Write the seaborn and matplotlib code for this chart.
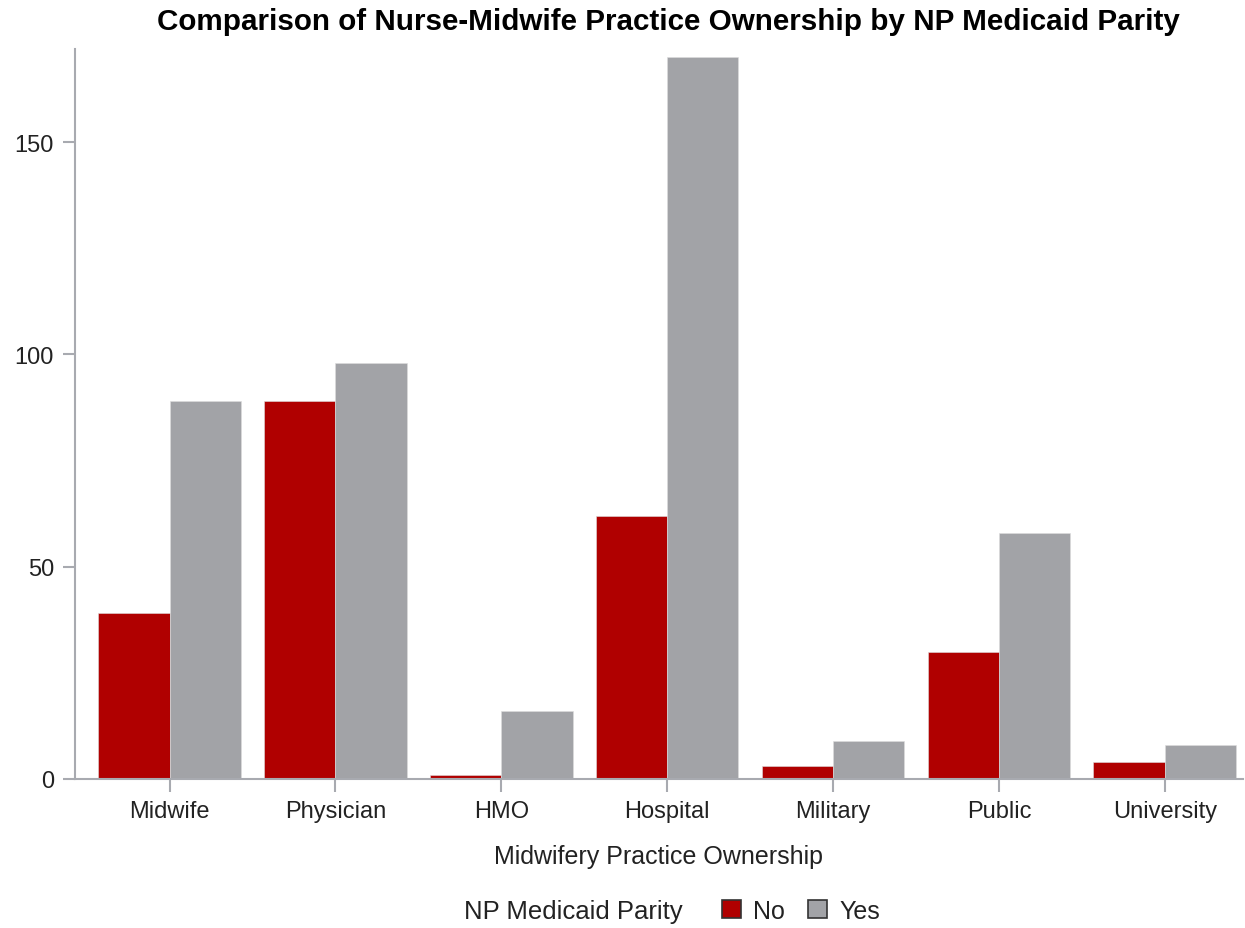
import pandas as pd
import seaborn as sns
import matplotlib.pyplot as plt
from matplotlib.patches import Patch

# data
ownership = ["Midwife", "Physician", "HMO", "Hospital", "Military", "Public", "University"]
parity_no = [39, 89, 1, 62, 3, 30, 4]
parity_yes = [89, 98, 16, 170, 9, 58, 8]
yticks = [0, 50, 100, 150]

df = pd.DataFrame({
    "ownership": ownership * 2,
    "count": parity_no + parity_yes,
    "parity": ["No"] * len(ownership) + ["Yes"] * len(ownership),
})

sns.set_style("white")
plt.rcParams["font.family"] = ["Liberation Sans", "DejaVu Sans"]

red = "#B00000"
grey = "#A2A3A7"
axis_col = "#A8AAB0"
text_col = "#222222"

fig = plt.figure(figsize=(12.45, 9.29), dpi=100)
ax = fig.add_axes([0.0602, 0.1604, 0.938, 0.786])

sns.barplot(data=df, x="ownership", y="count", hue="parity",
            palette={"No": red, "Yes": grey}, width=0.86, saturation=1,
            errorbar=None, edgecolor="#DDDDDD", linewidth=0.4, ax=ax)

ax.legend_.remove()
ax.set_ylim(0, 172)
ax.set_xlim(-0.57, 6.47)
ax.set_yticks(yticks)
ax.set_ylabel("")
ax.set_xlabel("Midwifery Practice Ownership", fontsize=18, color=text_col, labelpad=16)

sns.despine(ax=ax)
for s in ["left", "bottom"]:
    ax.spines[s].set_color(axis_col)
    ax.spines[s].set_linewidth(1.5)

ax.tick_params(axis="both", bottom=True, left=True, length=9, width=1.5,
               color=axis_col, labelsize=17, labelcolor=text_col, pad=6)

fig.text(0.537, 1 - 22 / 929, "Comparison of Nurse-Midwife Practice Ownership by NP Medicaid Parity",
         ha="center", va="center", fontsize=21.3, fontweight="bold", color="black")

# legend on one line at the bottom
fig.text(0.548, 1 - 912 / 929, "NP Medicaid Parity", ha="right", va="center",
         fontsize=18.5, color=text_col)
handles = [Patch(facecolor=red, edgecolor="#333333", linewidth=1.2),
           Patch(facecolor=grey, edgecolor="#333333", linewidth=1.2)]
fig.legend(handles, ["No", "Yes"], ncol=2, loc="center left",
           bbox_to_anchor=(0.562, 1 - 912 / 929), frameon=False, fontsize=18,
           handlelength=0.75, handleheight=0.75, handletextpad=0.5, columnspacing=0.9,
           labelcolor=text_col)

fig.savefig("out.png", dpi=100)
